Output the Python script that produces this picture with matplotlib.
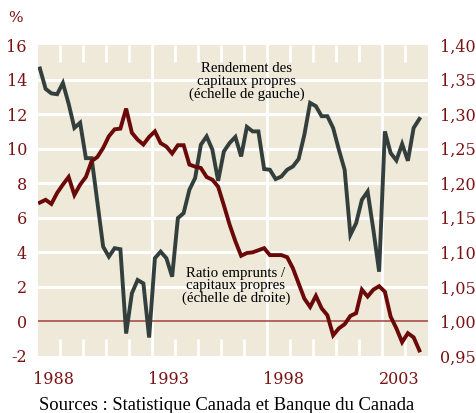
import matplotlib
matplotlib.use("Agg")
import matplotlib.pyplot as plt

# quarterly data, 1987Q1 to 2003Q3
start_year = 1987.125
roe = [14.64, 13.46, 13.2, 13.15, 13.8, 12.6, 11.2, 11.5, 9.45, 9.45,
       6.9, 4.33, 3.75, 4.24, 4.18, -0.70, 1.63, 2.4, 2.2, -0.93,
       3.66, 4.04, 3.66, 2.59, 5.98, 6.27, 7.62, 8.3, 10.23, 10.71,
       9.94, 8.14, 9.84, 10.33, 10.68, 9.55, 11.26, 11.0, 11.0, 8.82,
       8.78, 8.24, 8.39, 8.78, 8.97, 9.4, 10.81, 12.65, 12.46, 11.88,
       11.88, 11.2, 9.94, 8.78, 5.01, 5.69, 7.04, 7.52, 5.30, 2.88,
       11.0, 9.75, 9.32, 10.27, 9.30, 11.2, 11.72]
debt_ratio = [1.172, 1.176, 1.170, 1.186, 1.198, 1.209, 1.183, 1.198, 1.209, 1.232,
              1.238, 1.251, 1.268, 1.278, 1.279, 1.308, 1.273, 1.263, 1.256, 1.267,
              1.275, 1.258, 1.253, 1.243, 1.255, 1.255, 1.227, 1.224, 1.222, 1.209,
              1.205, 1.195, 1.168, 1.140, 1.116, 1.095, 1.099, 1.100, 1.103, 1.106,
              1.096, 1.096, 1.096, 1.093, 1.077, 1.055, 1.033, 1.021, 1.037, 1.019,
              1.009, 0.980, 0.990, 0.996, 1.008, 1.012, 1.046, 1.036, 1.046, 1.051,
              1.043, 1.007, 0.990, 0.970, 0.983, 0.977, 0.958]
left_ticks = [-2, 0, 2, 4, 6, 8, 10, 12, 14, 16]
right_ticks = [0.95, 1.00, 1.05, 1.10, 1.15, 1.20, 1.25, 1.30, 1.35, 1.40]
year_labels = [1988, 1993, 1998, 2003]

dates = [start_year + 0.25 * i for i in range(len(roe))]

label_color = "#7a1315"
bg_color = "#eee9d8"
gray_color = "#333f3c"
red_color = "#6b0808"

fig = plt.figure(figsize=(4.77, 4.13), dpi=100)
ax = fig.add_axes([38 / 477, 57 / 413, 390 / 477, 311 / 413])
ax.set_facecolor(bg_color)
ax.set_xlim(1987.043, 2004.0)
ax.set_ylim(-2, 16)
for s in ax.spines.values():
    s.set_visible(False)

# white grid
for v in range(2, 16, 2):
    ax.axhline(v, color="white", lw=2.2, zorder=1)
for yr in [1992, 1997, 2002]:
    ax.axvline(yr, color="white", lw=2, zorder=1)
short = [y for y in range(1988, 2004) if y not in (1992, 1997, 2002)]
ax.vlines(short, 0, 0.055, color="white", lw=2, transform=ax.get_xaxis_transform(), zorder=1)
ax.vlines(short, 0.945, 1, color="white", lw=2, transform=ax.get_xaxis_transform(), zorder=1)
ax.axhline(0, color="#a8504a", lw=1.2, zorder=2)

ax.plot(dates, roe, color=gray_color, lw=2.8, zorder=3, solid_joinstyle="miter")

ax.set_yticks(left_ticks)
ax.set_yticklabels([str(v) for v in left_ticks])
ax.set_xticks([y - 0.27 for y in year_labels])
ax.set_xticklabels([str(y) for y in year_labels])
ax.tick_params(axis="both", length=0, labelcolor=label_color, labelsize=11.5)
ax.tick_params(axis="y", pad=8)
ax.tick_params(axis="x", pad=11)
for lab in ax.get_xticklabels() + ax.get_yticklabels():
    lab.set_family("DejaVu Serif")

ax2 = ax.twinx()
ax2.set_ylim(0.95, 1.40)
for s in ax2.spines.values():
    s.set_visible(False)
ax2.plot(dates, debt_ratio, color=red_color, lw=2.8, zorder=3, solid_joinstyle="miter")
ax2.set_yticks(right_ticks)
ax2.set_yticklabels([("%.2f" % v).replace(".", ",") for v in right_ticks])
ax2.tick_params(axis="y", length=0, labelcolor=label_color, labelsize=11.5, pad=9)
for lab in ax2.get_yticklabels():
    lab.set_family("DejaVu Serif")

ax.text(1996.13, 13.9, "Rendement des\ncapitaux propres\n(échelle de gauche)",
        ha="center", va="center", fontsize=10.7, family="Liberation Serif",
        color="black", linespacing=0.95, zorder=4)
ax.text(1995.65, 2.05, "Ratio emprunts /\ncapitaux propres\n(échelle de droite)",
        ha="center", va="center", fontsize=10.7, family="Liberation Serif",
        color="black", linespacing=0.95, zorder=4)

fig.text(15 / 477, 1 - 18 / 413, "%", ha="center", va="center", fontsize=11,
         color=label_color, family="DejaVu Serif")
fig.text(227 / 477, 1 - 406 / 413, "Sources : Statistique Canada et Banque du Canada",
         ha="center", va="center", fontsize=13.4, family="Liberation Serif", color="black")

fig.savefig("out.png", dpi=100)
